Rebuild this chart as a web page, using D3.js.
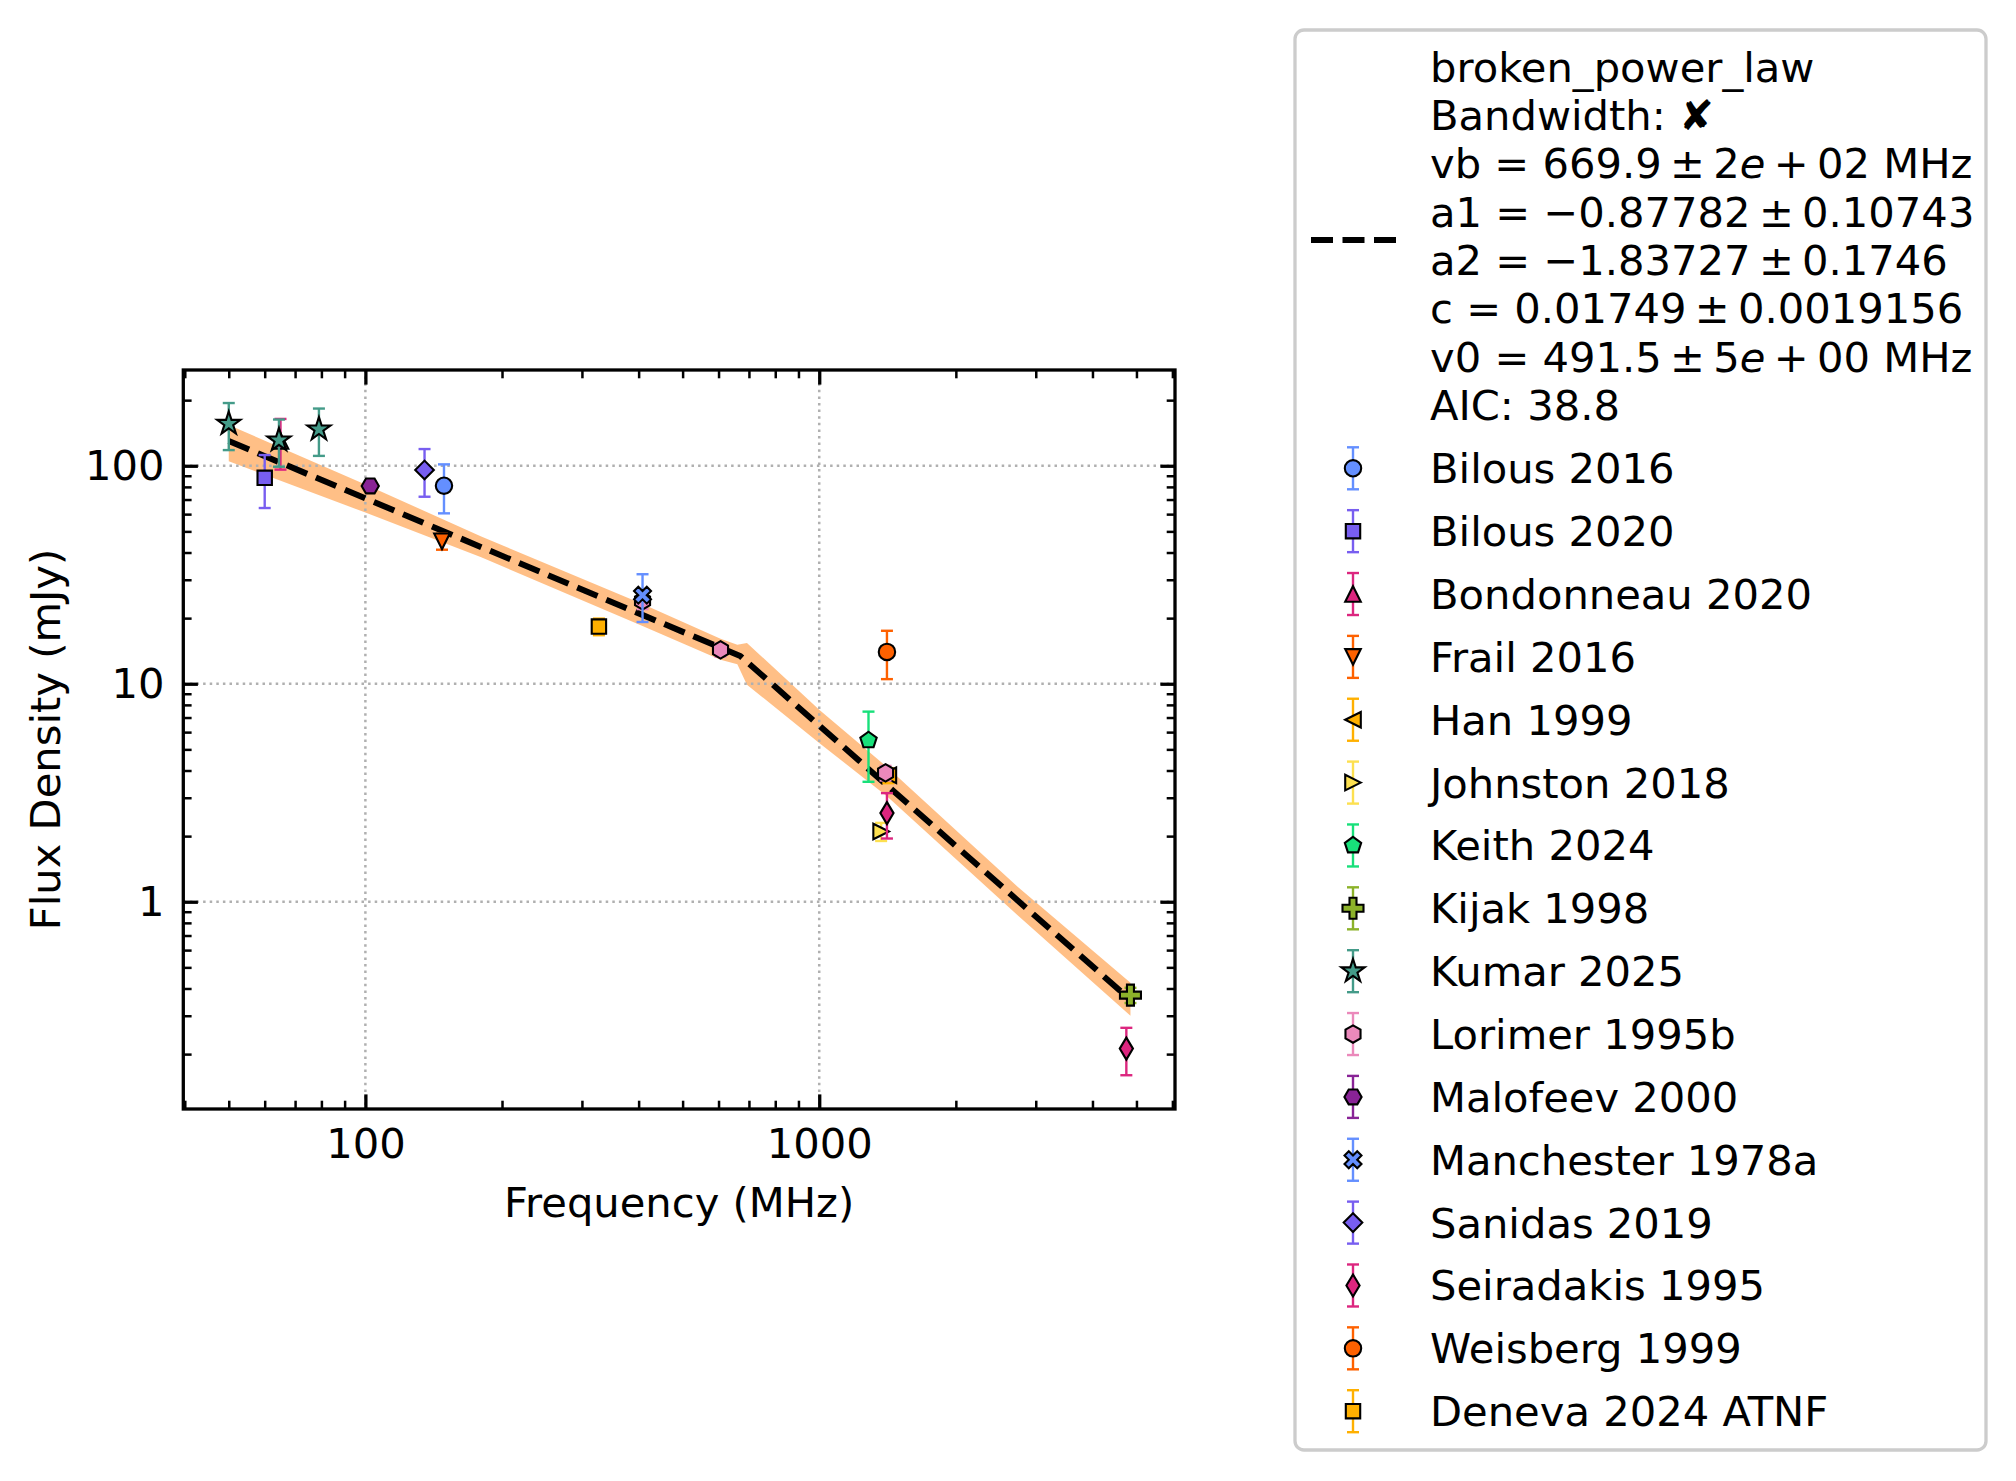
<!DOCTYPE html>
<html>
<head>
<meta charset="utf-8">
<script src="https://cdn.jsdelivr.net/npm/d3@7"></script>
<style>
  body { margin: 0; background: #fff; }
  text { font-family: "DejaVu Sans", sans-serif; fill: #000; }
</style>
</head>
<body>
<script>

var width = 2016,
    height = 1481,
    plot = {left: 183.3, right: 1175, top: 370, bottom: 1109},
    fontSize = 41.67;

// catalogue points
var catalogues = ['Bilous 2016', 'Bilous 2020', 'Bondonneau 2020', 'Frail 2016', 'Han 1999',
                  'Johnston 2018', 'Keith 2024', 'Kijak 1998', 'Kumar 2025', 'Lorimer 1995b',
                  'Malofeev 2000', 'Manchester 1978a', 'Sanidas 2019', 'Seiradakis 1995',
                  'Weisberg 1999', 'Deneva 2024 ATNF'];
var freqs    = [[149], [60], [65], [147.5], [1420], [1369], [1284], [4850], [50, 64.5, 79],
                [408, 606, 1400], [102.5], [408], [135], [1410, 4750], [1410], [327]];
var fluxes   = [[81], [88], [130], [45], [3.8], [2.1], [5.5], [0.373], [156, 131, 147],
                [24, 14.3, 3.9], [80.8], [25.5], [95.7], [2.55, 0.212], [14], [18.3]];
var fluxErrs = [[20.5], [24], [34], [3.8], [0.3], [0.2], [1.95], [0.03], [38, 32, 36],
                [2, 1, 0.3], [4], [6.3], [23.6], [0.6, 0.052], [3.5], [1.6]];

var colours = ['#648fff', '#785ef0', '#dc267f', '#fe6100', '#ffb000', '#fde050', '#18e07a',
               '#8cb22a', '#449b89', '#eb89bb', '#892396', '#648fff', '#785ef0', '#dc267f',
               '#fe6100', '#ffb000'];
var shapes  = ['o', 's', '^', 'v', '<', '>', 'p', 'P', '*', 'h', 'H', 'X', 'D', 'd', 'o', 's'];

// fitted broken power law and its uncertainty band
var fitFreq = [50, 670, 4850],
    fitFlux = [130, 13.4, 0.355];
var bandFreq = [50, 100, 180, 408, 606, 660, 693, 1000, 1410, 2740, 4850],
    bandLow  = [105, 61, 38, 18.4, 12.9, 12.3, 9.9, 5.35, 3.05, 0.865, 0.30],
    bandHigh = [154, 82, 47.4, 23.2, 16.1, 15.1, 15.4, 7.6, 4.15, 1.17, 0.425];

var fitLines = [
    ['broken_power_law'],
    ['Bandwidth: \u2718'],
    ['vb = 669.9\u2009\u00b1\u20092', {it: 'e'}, '\u2009+\u200902 MHz'],
    ['a1 = \u22120.87782\u2009\u00b1\u20090.10743'],
    ['a2 = \u22121.83727\u2009\u00b1\u20090.1746'],
    ['c = 0.01749\u2009\u00b1\u20090.0019156'],
    ['v0 = 491.5\u2009\u00b1\u20095', {it: 'e'}, '\u2009+\u200900 MHz'],
    ['AIC: 38.8']
];

var xDomain = [39.7, 6080], yDomain = [0.112, 275];
var xMajor = [100, 1000], xTickLabels = ['100', '1000'];
var yMajor = [1, 10, 100], yTickLabels = ['1', '10', '100'];

var x = d3.scaleLog().domain(xDomain).range([plot.left, plot.right]),
    y = d3.scaleLog().domain(yDomain).range([plot.bottom, plot.top]);

var svg = d3.select('body').append('svg')
            .attr('width', width)
            .attr('height', height)
            .style('display', 'block');

svg.append('rect').attr('width', width).attr('height', height).attr('fill', '#fff');

// marker outlines, centred on 0,0
function poly(n, r, rot) {
    var pts = [];
    for (var i = 0; i < n; i++) {
        var a = rot + i * 2 * Math.PI / n;
        pts.push([r * Math.sin(a), -r * Math.cos(a)]);
    }
    return pts;
}
function markerPath(shape) {
    var pts;
    switch (shape) {
        case 'o': return d3.symbol(d3.symbolCircle, Math.PI * 8.2 * 8.2)();
        case 's': pts = [[-7.2, -7.2], [7.2, -7.2], [7.2, 7.2], [-7.2, 7.2]]; break;
        case '^': pts = [[0, -7.8], [7.8, 7.8], [-7.8, 7.8]]; break;
        case 'v': pts = [[0, 7.8], [7.8, -7.8], [-7.8, -7.8]]; break;
        case '<': pts = [[-7.8, 0], [7.8, -7.8], [7.8, 7.8]]; break;
        case '>': pts = [[7.8, 0], [-7.8, -7.8], [-7.8, 7.8]]; break;
        case 'p': pts = poly(5, 8.6, 0); break;
        case 'h': pts = poly(6, 8.7, 0); break;
        case 'H': pts = poly(6, 8.6, Math.PI / 6); break;
        case 'D': pts = [[0, -9.3], [9.3, 0], [0, 9.3], [-9.3, 0]]; break;
        case 'd': pts = [[0, -11], [6.6, 0], [0, 11], [-6.6, 0]]; break;
        case '*':
            pts = [];
            for (var i = 0; i < 10; i++) {
                var r = i % 2 ? 12.2 * 0.382 : 12.2, a = i * Math.PI / 5;
                pts.push([r * Math.sin(a), -r * Math.cos(a)]);
            }
            break;
        case 'P':
        case 'X':
            var a = shape == 'P' ? 10.5 : 9, w = a / 3;
            pts = [[-w, -a], [w, -a], [w, -w], [a, -w], [a, w], [w, w], [w, a], [-w, a],
                   [-w, w], [-a, w], [-a, -w], [-w, -w]];
            if (shape == 'X') {
                var c = Math.SQRT1_2;
                pts = pts.map(function(p) { return [c * (p[0] - p[1]), c * (p[0] + p[1])]; });
            }
            break;
    }
    return 'M' + pts.map(function(p) { return p[0].toFixed(2) + ',' + p[1].toFixed(2); }).join('L') + 'Z';
}

function errorBar(g, cx, yTop, yBot, colour) {
    g.append('line').attr('x1', cx).attr('x2', cx).attr('y1', yTop).attr('y2', yBot)
        .attr('stroke', colour).attr('stroke-width', 2.4);
    [yTop, yBot].forEach(function(yy) {
        g.append('line').attr('x1', cx - 6).attr('x2', cx + 6).attr('y1', yy).attr('y2', yy)
            .attr('stroke', colour).attr('stroke-width', 2.4);
    });
}
function marker(g, cx, cy, shape, colour) {
    g.append('path').attr('d', markerPath(shape))
        .attr('transform', 'translate(' + cx + ',' + cy + ')')
        .attr('fill', colour).attr('stroke', '#000').attr('stroke-width', 2.1)
        .attr('stroke-linejoin', 'miter');
}

// uncertainty band
var band = bandFreq.map(function(f, i) { return {f: f, lo: bandLow[i], hi: bandHigh[i]}; });
svg.append('path')
    .datum(band)
    .attr('fill', '#ff7f0e')
    .attr('fill-opacity', 0.5)
    .attr('d', d3.area()
        .x(function(d) { return x(d.f); })
        .y0(function(d) { return y(d.lo); })
        .y1(function(d) { return y(d.hi); }));

// grid on the major ticks
var grid = svg.append('g').attr('stroke', '#b0b0b0').attr('stroke-width', 2.5)
              .attr('stroke-dasharray', '2.5 4.1');
xMajor.forEach(function(v) {
    grid.append('line').attr('x1', x(v)).attr('x2', x(v)).attr('y1', plot.top).attr('y2', plot.bottom);
});
yMajor.forEach(function(v) {
    grid.append('line').attr('x1', plot.left).attr('x2', plot.right).attr('y1', y(v)).attr('y2', y(v));
});

// fitted model
var fit = fitFreq.map(function(f, i) { return [f, fitFlux[i]]; });
svg.append('path')
    .datum(fit)
    .attr('fill', 'none')
    .attr('stroke', '#000')
    .attr('stroke-width', 6)
    .attr('stroke-dasharray', '22 9.5')
    .attr('d', d3.line().x(function(d) { return x(d[0]); }).y(function(d) { return y(d[1]); }));

// catalogue points
var points = svg.append('g').attr('class', 'points');
catalogues.forEach(function(name, k) {
    freqs[k].forEach(function(f, j) {
        var g = points.append('g'),
            v = fluxes[k][j], e = fluxErrs[k][j];
        errorBar(g, x(f), y(v + e), y(v - e), colours[k]);
        marker(g, x(f), y(v), shapes[k], colours[k]);
    });
});

// axes: inward ticks on all four sides
function styleAxis(g, w) {
    g.select('.domain').remove();
    g.attr('font-size', fontSize).attr('font-family', 'DejaVu Sans');
    g.selectAll('line').attr('stroke', '#000').attr('stroke-width', w);
    g.selectAll('text').attr('fill', '#000');
}
var xMinor = x.ticks().filter(function(v) { return xMajor.indexOf(v) < 0; }),
    yMinor = y.ticks().filter(function(v) { return yMajor.indexOf(Math.round(v * 1000) / 1000) < 0; });

svg.append('g').attr('transform', 'translate(0,' + plot.bottom + ')')
    .call(d3.axisBottom(x).tickValues(xMajor).tickSize(-14.6).tickPadding(19.7)
        .tickFormat(function(d, i) { return xTickLabels[i]; }))
    .call(styleAxis, 3.3);
svg.append('g').attr('transform', 'translate(0,' + plot.bottom + ')')
    .call(d3.axisBottom(x).tickValues(xMinor).tickSize(-8.3).tickFormat(''))
    .call(styleAxis, 2.5);
svg.append('g').attr('transform', 'translate(0,' + plot.top + ')')
    .call(d3.axisTop(x).tickValues(xMajor).tickSize(-14.6).tickFormat(''))
    .call(styleAxis, 3.3);
svg.append('g').attr('transform', 'translate(0,' + plot.top + ')')
    .call(d3.axisTop(x).tickValues(xMinor).tickSize(-8.3).tickFormat(''))
    .call(styleAxis, 2.5);

svg.append('g').attr('transform', 'translate(' + plot.left + ',0)')
    .call(d3.axisLeft(y).tickValues(yMajor).tickSize(-14.6).tickPadding(18.8)
        .tickFormat(function(d, i) { return yTickLabels[i]; }))
    .call(styleAxis, 3.3);
svg.append('g').attr('transform', 'translate(' + plot.left + ',0)')
    .call(d3.axisLeft(y).tickValues(yMinor).tickSize(-8.3).tickFormat(''))
    .call(styleAxis, 2.5);
svg.append('g').attr('transform', 'translate(' + plot.right + ',0)')
    .call(d3.axisRight(y).tickValues(yMajor).tickSize(-14.6).tickFormat(''))
    .call(styleAxis, 3.3);
svg.append('g').attr('transform', 'translate(' + plot.right + ',0)')
    .call(d3.axisRight(y).tickValues(yMinor).tickSize(-8.3).tickFormat(''))
    .call(styleAxis, 2.5);

svg.append('rect')
    .attr('x', plot.left).attr('y', plot.top)
    .attr('width', plot.right - plot.left).attr('height', plot.bottom - plot.top)
    .attr('fill', 'none').attr('stroke', '#000').attr('stroke-width', 3.3);

svg.append('text')
    .attr('x', (plot.left + plot.right) / 2).attr('y', 1216.7)
    .attr('text-anchor', 'middle').attr('font-size', fontSize)
    .text('Frequency (MHz)');
svg.append('text')
    .attr('transform', 'translate(60,' + (plot.top + plot.bottom) / 2 + ') rotate(-90)')
    .attr('text-anchor', 'middle').attr('font-size', fontSize)
    .text('Flux Density (mJy)');

// legend
var legend = svg.append('g').attr('class', 'legend');
legend.append('rect')
    .attr('x', 1295).attr('y', 30).attr('width', 691).attr('height', 1420)
    .attr('rx', 9).attr('fill', '#fff').attr('stroke', '#cccccc').attr('stroke-width', 3.3);

legend.append('line')
    .attr('x1', 1311).attr('x2', 1396).attr('y1', 240).attr('y2', 240)
    .attr('stroke', '#000').attr('stroke-width', 6).attr('stroke-dasharray', '22 9.5');

fitLines.forEach(function(parts, i) {
    var t = legend.append('text')
        .attr('x', 1430).attr('y', 81.7 + 48.3 * i)
        .attr('font-size', fontSize)
        .attr('xml:space', 'preserve');
    parts.forEach(function(p) {
        if (typeof p === 'string') t.append('tspan').text(p);
        else t.append('tspan').attr('font-style', 'italic').text(p.it);
    });
});

catalogues.forEach(function(name, k) {
    var cy = 468.3 + 62.86 * k,
        g = legend.append('g');
    errorBar(g, 1353, cy - 21, cy + 21, colours[k]);
    marker(g, 1353, cy, shapes[k], colours[k]);
    legend.append('text')
        .attr('x', 1430).attr('y', cy + 15)
        .attr('font-size', fontSize)
        .text(name);
});

</script>
</body>
</html>
